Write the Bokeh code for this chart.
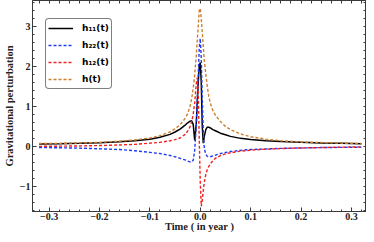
import numpy as np
from bokeh.plotting import figure
from bokeh.models import (FixedTicker, LinearAxis, Legend, LegendItem, ColumnDataSource)
from bokeh.embed import file_html
from bokeh.resources import INLINE

# ---- data ----
t = [-0.32, -0.28, -0.24, -0.2, -0.16, -0.13, -0.1, -0.08, -0.06, -0.05, -0.04, -0.03,
     -0.025, -0.02, -0.017, -0.014, -0.011, -0.008, -0.006, -0.004, -0.002, 0.0,
     0.002, 0.004, 0.006, 0.008, 0.011, 0.014, 0.017, 0.02, 0.025, 0.03, 0.04, 0.05,
     0.06, 0.08, 0.1, 0.13, 0.16, 0.2, 0.24, 0.28, 0.32]

h11 = [0.06, 0.065, 0.075, 0.09, 0.115, 0.14, 0.18, 0.23, 0.30, 0.36, 0.43, 0.53,
       0.59, 0.63, 0.64, 0.55, 0.15, 0.55, 1.1, 1.6, 2.0, 2.1,
       1.6, 0.5, 0.08, 0.25, 0.42, 0.48, 0.48, 0.46, 0.42, 0.39, 0.33, 0.29,
       0.25, 0.20, 0.17, 0.14, 0.12, 0.10, 0.085, 0.075, 0.065]

h22 = [-0.03, -0.035, -0.045, -0.06, -0.08, -0.11, -0.15, -0.18, -0.23, -0.26, -0.30, -0.34,
       -0.37, -0.39, -0.39, -0.35, -0.10, 0.5, 1.1, 1.8, 2.45, 2.7,
       2.2, 1.2, 0.4, -0.05, -0.20, -0.25, -0.26, -0.26, -0.24, -0.22, -0.18, -0.155,
       -0.13, -0.10, -0.08, -0.065, -0.05, -0.04, -0.03, -0.025, -0.02]

h12 = [0.0, 0.005, 0.01, 0.02, 0.035, 0.05, 0.08, 0.10, 0.14, 0.17, 0.21, 0.30,
       0.38, 0.50, 0.62, 0.80, 1.1, 1.55, 1.72, 1.3, 0.2, -0.9,
       -1.5, -1.35, -1.1, -0.9, -0.7, -0.58, -0.5, -0.44, -0.36, -0.30, -0.23, -0.19,
       -0.16, -0.12, -0.095, -0.07, -0.055, -0.04, -0.03, -0.02, -0.015]

h = [0.07, 0.075, 0.085, 0.10, 0.13, 0.16, 0.21, 0.27, 0.36, 0.44, 0.54, 0.70,
     0.82, 1.02, 1.2, 1.45, 1.8, 2.25, 2.65, 3.0, 3.4, 3.45,
     3.2, 2.85, 2.5, 2.15, 1.8, 1.5, 1.25, 1.08, 0.9, 0.78, 0.62, 0.50,
     0.42, 0.31, 0.24, 0.18, 0.14, 0.11, 0.095, 0.08, 0.07]

series_labels = ["h\u2081\u2081(t)", "h\u2082\u2082(t)", "h\u2081\u2082(t)", "h(t)"]

x_ticks = [-0.3, -0.2, -0.1, 0.0, 0.1, 0.2, 0.3]
x_tick_labels = ["\u22120.3", "\u22120.2", "\u22120.1", "0.0", "0.1", "0.2", "0.3"]
y_ticks = [-1, 0, 1, 2, 3]
y_tick_labels = ["\u22121", "0", "1", "2", "3"]

x_label = "Time ( in year )"
y_label = "Gravitational perturbation"

FRAME = "#3a3a3a"

# ---- figure ----
p = figure(width=366, height=234, output_backend="svg", toolbar_location=None,
           x_range=(-0.333, 0.330), y_range=(-1.63, 3.65),
           min_border_left=0, min_border_right=0, min_border_top=0, min_border_bottom=0)
p.background_fill_color = "white"
p.border_fill_color = "white"
p.xgrid.visible = False
p.ygrid.visible = False
p.outline_line_color = FRAME
p.outline_line_width = 1

src = ColumnDataSource(dict(t=t, h11=h11, h22=h22, h12=h12, h=h))
r11 = p.line("t", "h11", source=src, line_color="black", line_width=1.5)
r22 = p.line("t", "h22", source=src, line_color="#1f3cf5", line_width=1.4, line_dash="3 2")
r12 = p.line("t", "h12", source=src, line_color="#f22020", line_width=1.4, line_dash="3 2")
rh = p.line("t", "h", source=src, line_color="#cc7f2f", line_width=1.4, line_dash="3 2")

xminor = [float(v) for v in np.round(np.arange(-0.32, 0.3401, 0.02), 3)]
yminor = [float(v) for v in np.round(np.arange(-1.6, 3.61, 0.2), 2)]

def style_axis(ax):
    ax.axis_line_color = FRAME
    ax.major_tick_line_color = FRAME
    ax.minor_tick_line_color = FRAME
    ax.major_tick_in = 4
    ax.major_tick_out = 0
    ax.minor_tick_in = 2
    ax.minor_tick_out = 0
    ax.major_label_text_font = "Liberation Serif"
    ax.major_label_text_font_style = "bold"
    ax.major_label_text_color = "#222222"
    ax.major_label_text_font_size = "10px"
    ax.axis_label_text_font = "Liberation Serif"
    ax.axis_label_text_font_style = "bold"
    ax.axis_label_text_font_size = "10.5px"
    ax.axis_label_text_color = "#222222"

xa = p.xaxis[0]
xa.ticker = FixedTicker(ticks=x_ticks, minor_ticks=xminor)
xa.major_label_overrides = {v: s for v, s in zip(x_ticks, x_tick_labels)}
xa.axis_label = x_label
style_axis(xa)
xa.major_label_standoff = 1
xa.axis_label_standoff = -2

ya = p.yaxis[0]
ya.ticker = FixedTicker(ticks=y_ticks, minor_ticks=yminor)
ya.major_label_overrides = {v: s for v, s in zip(y_ticks, y_tick_labels)}
ya.axis_label = y_label
style_axis(ya)
ya.major_label_standoff = 2
ya.axis_label_standoff = 2

# frame ticks on top and right (no labels: all ticks given as minor ticks)
top = LinearAxis(ticker=FixedTicker(ticks=[], minor_ticks=xminor))
style_axis(top)
top.minor_tick_in = 3
top.major_label_standoff = 0
p.add_layout(top, "above")
right = LinearAxis(ticker=FixedTicker(ticks=[], minor_ticks=yminor))
style_axis(right)
right.minor_tick_in = 3
right.major_label_standoff = 0
p.add_layout(right, "right")

legend = Legend(items=[LegendItem(label=series_labels[0], renderers=[r11]),
                       LegendItem(label=series_labels[1], renderers=[r22]),
                       LegendItem(label=series_labels[2], renderers=[r12]),
                       LegendItem(label=series_labels[3], renderers=[rh])],
                location=(13, 122))
legend.margin = 0
legend.padding = 2
legend.spacing = 3
legend.label_height = 14
legend.glyph_height = 14
legend.glyph_width = 25
legend.label_standoff = 9
legend.label_text_font = "DejaVu Sans"
legend.label_text_font_style = "bold"
legend.label_text_font_size = "9px"
legend.label_text_color = "black"
legend.border_line_color = "black"
legend.border_line_width = 1
legend.background_fill_color = "white"
legend.background_fill_alpha = 1.0
if "border_radius" in Legend.properties():
    legend.border_radius = 4
p.add_layout(legend, "center")

open("out.html", "w").write(file_html(p, INLINE))
